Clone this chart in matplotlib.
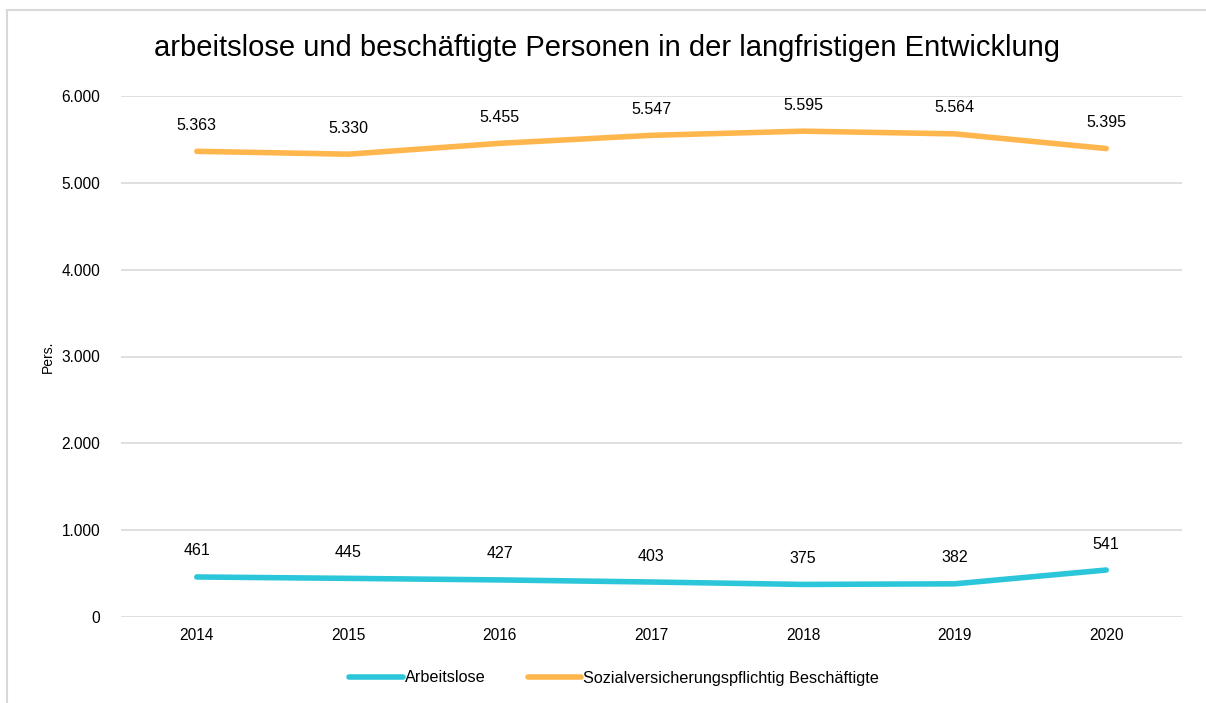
import matplotlib
matplotlib.use("Agg")
import matplotlib.pyplot as plt
from matplotlib.patches import Rectangle
from matplotlib.ticker import FuncFormatter, MultipleLocator

plt.rcParams['font.family'] = ['Liberation Sans', 'DejaVu Sans']

years = ["2014", "2015", "2016", "2017", "2018", "2019", "2020"]
arbeitslose = [461, 445, 427, 403, 375, 382, 541]
beschaeftigte = [5363, 5330, 5455, 5547, 5595, 5564, 5395]
series_names = ["Arbeitslose", "Sozialversicherungspflichtig Beschäftigte"]
title = "arbeitslose und beschäftigte Personen in der langfristigen Entwicklung"

c_cyan = "#2BC6D9"
c_orange = "#FFB64D"

W, H = 1206, 703
fig = plt.figure(figsize=(W/100, H/100), dpi=100)
ax = fig.add_axes([121/W, 1-617/H, (1182-121)/W, (617-96)/H])

x = list(range(len(years)))
ax.plot(x, arbeitslose, color=c_cyan, lw=4, solid_capstyle='round', label=series_names[0], zorder=3)
ax.plot(x, beschaeftigte, color=c_orange, lw=4, solid_capstyle='round', label=series_names[1], zorder=3)

def fmt(v):
    return f"{v:,.0f}".replace(",", ".")

for xi, v in zip(x, arbeitslose):
    ax.annotate(fmt(v), (xi, v), xytext=(0, 26), textcoords='offset pixels', ha='center', va='center', fontsize=11.5, color='#000000')
for xi, v in zip(x, beschaeftigte):
    ax.annotate(fmt(v), (xi, v), xytext=(0, 26), textcoords='offset pixels', ha='center', va='center', fontsize=11.5, color='#000000')

ax.set_xlim(-0.5, len(years)-0.5)
ax.set_ylim(0, 6000)
ax.yaxis.set_major_locator(MultipleLocator(1000))
ax.yaxis.set_major_formatter(FuncFormatter(lambda v, p: fmt(v)))
ax.set_xticks(x)
ax.set_xticklabels(years)
ax.tick_params(axis='both', length=0, labelsize=11.2, colors='#000000')
ax.tick_params(axis='y', pad=15)
ax.tick_params(axis='x', pad=8)
ax.grid(axis='y', color='#d9d9d9', lw=1.2)
ax.set_axisbelow(True)
for s in ax.spines.values():
    s.set_visible(False)

fig.text(48/W, 1-357/H, "Pers.", rotation=90, ha='center', va='center', fontsize=10)
fig.text(607/W, 1-48/H, title, ha='center', va='center', fontsize=21)

leg = fig.legend(loc='center', bbox_to_anchor=(614/W, 1-678/H), ncol=2, frameon=False,
                 fontsize=11.7, handlelength=3.3, handletextpad=0.1, columnspacing=2.6)

fig.patches.append(Rectangle((7/W, -0.01), 1.02, 1-10/H+0.01, transform=fig.transFigure,
                             fill=False, edgecolor='#d9d9d9', lw=1.5))

fig.savefig("out.png", dpi=100)
